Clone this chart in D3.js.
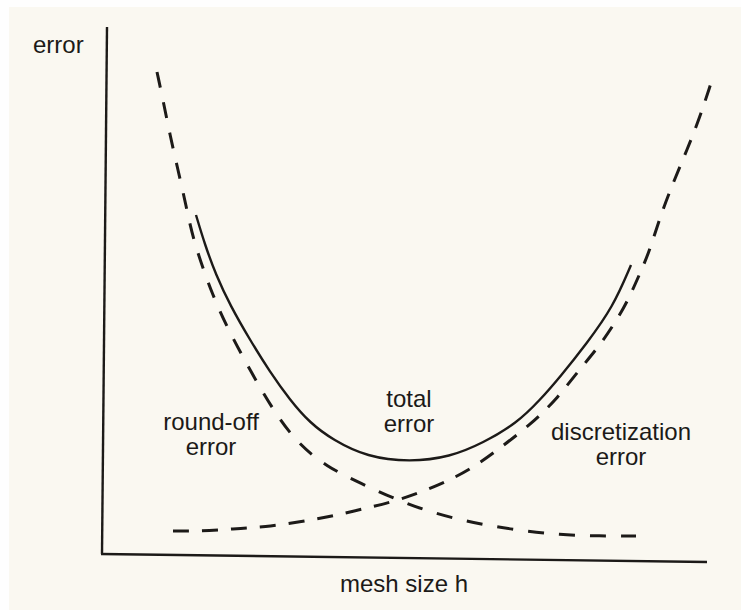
<!DOCTYPE html>
<html>
<head>
<meta charset="utf-8">
<script src="https://cdn.jsdelivr.net/npm/d3@7"></script>
<style>
  html, body { margin: 0; padding: 0; background: #fefefe; }
  text { font-family: "Liberation Sans", Arial, sans-serif; fill: #1c1a18; }
</style>
</head>
<body>
<div id="chart"></div>
<script>
// curve values (arbitrary units: mesh size h, error)
const totalError = [
  [9.6, 34.5], [10.5, 31.5], [11.6, 28.5], [13.0, 25.5], [15.0, 22.0], [17.0, 18.8],
  [19.0, 16.0], [21.0, 13.7], [23.3, 12.0], [26.7, 10.3], [31.0, 9.8], [35.0, 10.3],
  [38.3, 11.7], [41.7, 13.7], [44.0, 16.0], [46.0, 18.3], [48.7, 21.7], [51.3, 25.3],
  [53.1, 29.5]
];
const roundOffError = [
  [5.7, 48.8], [6.3, 46.0], [7.0, 42.5], [7.8, 39.0], [8.6, 35.5], [9.3, 32.0],
  [11.3, 26.3], [13.0, 22.7], [15.0, 19.0], [17.3, 15.0], [19.7, 11.7], [22.7, 9.3],
  [26.0, 7.7], [29.7, 6.0], [33.3, 4.7], [37.3, 3.7], [41.7, 3.0], [46.0, 2.5],
  [50.0, 2.4], [53.6, 2.4]
];
const discretizationError = [
  [7.3, 2.9], [10.0, 2.9], [13.3, 3.1], [16.5, 3.3], [20.0, 3.8], [23.3, 4.4],
  [26.7, 5.2], [30.0, 6.0], [34.0, 7.5], [37.3, 9.2], [40.0, 11.2], [43.0, 13.5],
  [45.6, 16.0], [47.9, 19.0], [50.2, 21.7], [52.5, 25.3], [53.7, 28.0], [54.9, 30.7],
  [56.0, 34.3], [57.3, 37.7], [58.7, 41.0], [60.0, 44.3], [61.1, 47.7]
];
// axis lines (the scan is a little tilted)
const yAxisLine = [[0.7, 53.3], [0.2, 0.6]];
const xAxisLine = [[0.1, 0.6], [60.7, -0.2]];

// labels: text lines, anchor point in data units
const labels = [
  { lines: ["round-off", "error"], x: 11.1, y: 13.0 },
  { lines: ["total", "error"], x: 30.9, y: 15.3 },
  { lines: ["discretization", "error"], x: 52.1, y: 12.0 }
];
const yTitle = "error";
const xTitle = "mesh size h";

const width = 741, height = 610;

const svg = d3.select("#chart").append("svg")
    .attr("width", width)
    .attr("height", height);

// paper
svg.append("rect")
    .attr("x", 9).attr("y", 7)
    .attr("width", width - 9).attr("height", height - 7)
    .attr("fill", "#faf8f1");

const x = d3.scaleLinear().domain([0, 61]).range([100, 710]);
const y = d3.scaleLinear().domain([0, 53]).range([560, 30]);

const straight = d3.line().x(d => x(d[0])).y(d => y(d[1]));
const smooth = d3.line()
    .x(d => x(d[0]))
    .y(d => y(d[1]))
    .curve(d3.curveBasis);

// axes
[yAxisLine, xAxisLine].forEach(a => {
  svg.append("path")
      .attr("d", straight(a))
      .attr("fill", "none")
      .attr("stroke", "#1c1a18")
      .attr("stroke-width", 2.4);
});

// curves
svg.append("path")
    .attr("d", smooth(roundOffError))
    .attr("fill", "none")
    .attr("stroke", "#1c1a18")
    .attr("stroke-width", 3)
    .attr("stroke-dasharray", "16,15");

svg.append("path")
    .attr("d", smooth(discretizationError))
    .attr("fill", "none")
    .attr("stroke", "#1c1a18")
    .attr("stroke-width", 3)
    .attr("stroke-dasharray", "16,13");

svg.append("path")
    .attr("d", smooth(totalError))
    .attr("fill", "none")
    .attr("stroke", "#1c1a18")
    .attr("stroke-width", 2.4);

// curve labels
labels.forEach(l => {
  const t = svg.append("text")
      .attr("x", x(l.x))
      .attr("y", y(l.y))
      .style("font-size", "24px")
      .style("text-anchor", "middle");
  l.lines.forEach((s, i) => {
    t.append("tspan")
      .attr("x", x(l.x))
      .attr("dy", i === 0 ? 0 : 24.5)
      .text(s);
  });
});

// axis titles
svg.append("text")
    .attr("x", 33)
    .attr("y", 53)
    .style("font-size", "24px")
    .text(yTitle);

svg.append("text")
    .attr("x", 340)
    .attr("y", 592)
    .style("font-size", "24px")
    .text(xTitle);
</script>
</body>
</html>
